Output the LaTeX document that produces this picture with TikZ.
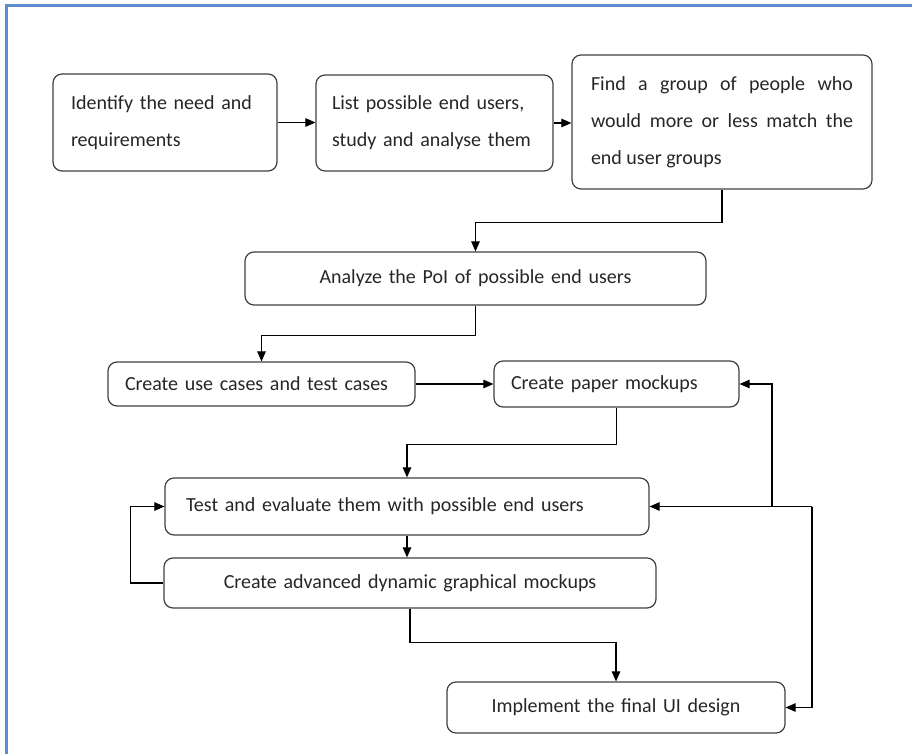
\documentclass[tikz,border=0pt]{standalone}
\usepackage{fontspec}
\setmainfont{Carlito}
\usetikzlibrary{arrows.meta}

\begin{document}
\begin{tikzpicture}[
  x=1pt, y=-1pt,
  font=\fontsize{20}{37}\selectfont,
  stepbox/.style={draw=black!75, line width=1.2pt, rounded corners=9pt, inner xsep=18pt, inner ysep=0pt, text=black!85},
  lbox/.style={stepbox, align=left},
  jbox/.style={stepbox, align=justify},
  cbox/.style={stepbox, align=center},
  arr/.style={-{Triangle[length=10pt, width=8.5pt]}, line width=1.1pt},
  frame/.style={draw={rgb,255:red,91;green,141;blue,208}, line width=3pt}
]
\useasboundingbox (0,0) rectangle (912,754);
\draw[frame] (6,754) -- (6,6) -- (912,6);

\node[lbox, text width=188pt, minimum height=97pt] (ident) at (165,122.5) {Identify the need and\\requirements};
\node[lbox, text width=205pt, inner xsep=16pt, minimum height=96pt] (listu) at (434.5,123) {List possible end users,\\study and analyse them};
\node[jbox, text width=262pt, inner xsep=19pt, minimum height=134pt] (findg) at (722,122) {Find a group of people who\linebreak would more or less match the\linebreak end user groups};
\node[cbox, text width=425pt, minimum height=53pt] (analyze) at (475.5,278.5) {Analyze the PoI of possible end users};
\node[lbox, text width=273pt, inner xsep=17pt, minimum height=44pt] (usecase) at (261.5,384) {Create use cases and test cases};
\node[lbox, text width=211pt, inner xsep=17pt, minimum height=46pt] (paper) at (616.5,384) {Create paper mockups};
\node[lbox, text width=442pt, inner xsep=21pt, minimum height=57pt] (testev) at (407,506.5) {Test and evaluate them with possible end users};
\node[cbox, text width=456pt, minimum height=50pt] (advmock) at (410,583) {Create advanced dynamic graphical mockups};
\node[cbox, text width=302pt, minimum height=51pt] (impl) at (616,707.5) {Implement the final UI design};

\coordinate (fbr) at (812,506.5);
\coordinate (fbl) at (772,506.5);

\draw[arr] (ident) -- (ident.east -| listu.west);
\draw[arr] (listu.east) -- (listu.east -| findg.west);
\draw[arr] (findg.south) -- ++(0,33) -| (analyze.north);
\draw[arr] (analyze.south) -- ++(0,30) -| (usecase.north);
\draw[arr] (usecase) -- (paper);
\draw[arr] (paper.south) -- ++(0,37) -| (testev.north);
\draw[arr] (testev.south) -- (testev.south |- advmock.north);
\draw[arr] (advmock.west) -- ++(-33,0) |- (testev.west);
\draw[arr] (advmock.south) -- ++(0,34) -| (impl.north);
\draw[arr] (fbr) |- (impl.east);
\draw[arr] (fbr) -- (testev.east);
\draw[arr] (fbl) |- (paper.east);
\end{tikzpicture}
\end{document}
